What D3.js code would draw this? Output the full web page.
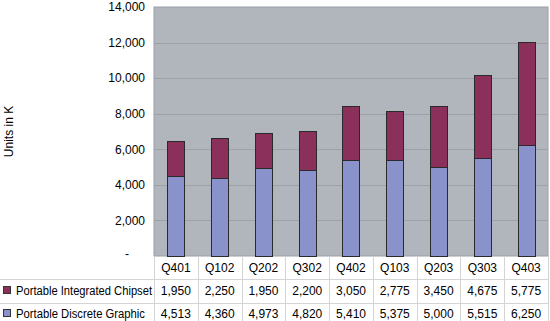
<!DOCTYPE html>
<html><head><meta charset="utf-8">
<script src="https://cdn.jsdelivr.net/npm/d3@7"></script>
<style>body{margin:0;background:#fff}svg{display:block;font-family:"Liberation Sans",Arial,sans-serif}</style>
</head><body><svg id="c" width="550" height="321"></svg>
<script>
const categories = ["Q401","Q102","Q202","Q302","Q402","Q103","Q203","Q303","Q403"];
const discrete = [4513,4360,4973,4820,5410,5375,5000,5515,6250];
const integrated = [1950,2250,1950,2200,3050,2775,3450,4675,5775];
const seriesNames = ["Portable Integrated Chipset","Portable Discrete Graphic"];
const yTicks = [0,2000,4000,6000,8000,10000,12000,14000];
const colors = {integrated:"#8b2f5b", discrete:"#8a92cc"};

(function(){
const svg = d3.select("#c");
const pL=154, pR=548, pT=7, pB=256;
const x = d3.scaleBand().domain(categories).range([pL,pR]).paddingInner(0.61).paddingOuter(0.305);
const xc = d3.scaleBand().domain(categories).range([pL,pR]);
const y = d3.scaleLinear().domain([0,14000]).range([pB,pT]);

svg.append("rect").attr("x",pL).attr("y",pT).attr("width",pR-pL).attr("height",pB-pT)
  .attr("fill","#b1b5bc").attr("stroke","#9a9ea6").attr("stroke-width",1);
svg.append("g").selectAll("line").data(yTicks.filter(d=>d>0&&d<14000)).join("line")
  .attr("x1",pL).attr("x2",pR).attr("y1",d=>Math.round(y(d))+0.5).attr("y2",d=>Math.round(y(d))+0.5)
  .attr("stroke","#9da1a8").attr("stroke-width",1);

const yAxis = d3.axisLeft(y).tickValues(yTicks).tickSize(0).tickPadding(9)
  .tickFormat(d=> d===0 ? "-" : d3.format(",")(d));
const ga = svg.append("g").attr("transform",`translate(${pL},0)`).call(yAxis);
ga.select(".domain").remove();
ga.selectAll("text").attr("font-size",12).attr("fill","#000").attr("font-family","Liberation Sans, Arial, sans-serif");
ga.selectAll(".tick").filter(d=>d===0).select("text").attr("dx",-16).attr("dy","0.1em");

svg.append("text").attr("transform",`translate(13,${(pT+pB)/2}) rotate(-90)`)
  .attr("text-anchor","middle").attr("font-size",12).text("Units in K");

const stack = d3.stack().keys(["discrete","integrated"])(categories.map((c,i)=>({cat:c,discrete:discrete[i],integrated:integrated[i]})));
svg.append("g").selectAll("g").data(stack).join("g").attr("fill",d=>colors[d.key])
  .selectAll("rect").data(d=>d).join("rect")
  .attr("x",d=>Math.round(x(d.data.cat))+0.5).attr("width",Math.round(x.bandwidth()))
  .attr("y",d=>Math.round(y(d[1]))+0.5).attr("height",d=>Math.round(y(d[0]))-Math.round(y(d[1])))
  .attr("stroke","#2a2a2a").attr("stroke-width",1);

const rowLines=[279.5,303.5];
const t = svg.append("g");
t.selectAll("line.h").data(rowLines).join("line").attr("x1",0).attr("x2",pR).attr("y1",d=>d).attr("y2",d=>d)
  .attr("stroke","#d4d4d4");
t.selectAll("line.v").data(categories.concat(["end"])).join("line")
  .attr("x1",(d,i)=>Math.round(pL+i*xc.bandwidth())+0.5).attr("x2",(d,i)=>Math.round(pL+i*xc.bandwidth())+0.5)
  .attr("y1",pB).attr("y2",321).attr("stroke","#d4d4d4");
t.selectAll("text.cat").data(categories).join("text")
  .attr("x",d=>xc(d)+xc.bandwidth()/2).attr("y",272).attr("text-anchor","middle").attr("font-size",12).text(d=>d);
const rows=[{key:"integrated",vals:integrated,name:seriesNames[0],yy:295,w:136},{key:"discrete",vals:discrete,name:seriesNames[1],yy:318,w:129}];
rows.forEach(r=>{
  t.append("rect").attr("x",3.5).attr("y",r.yy-8.5).attr("width",7).attr("height",7)
    .attr("fill",colors[r.key]).attr("stroke","#333").attr("stroke-width",1);
  t.append("text").attr("x",16).attr("y",r.yy).attr("font-size",12)
    .attr("textLength",r.w).attr("lengthAdjust","spacingAndGlyphs").text(r.name);
  t.selectAll(null).data(r.vals).join("text")
    .attr("x",(d,i)=>xc(categories[i])+xc.bandwidth()/2).attr("y",r.yy).attr("text-anchor","middle")
    .attr("font-size",12).text(d=>d3.format(",")(d));
});
})();
</script></body></html>
